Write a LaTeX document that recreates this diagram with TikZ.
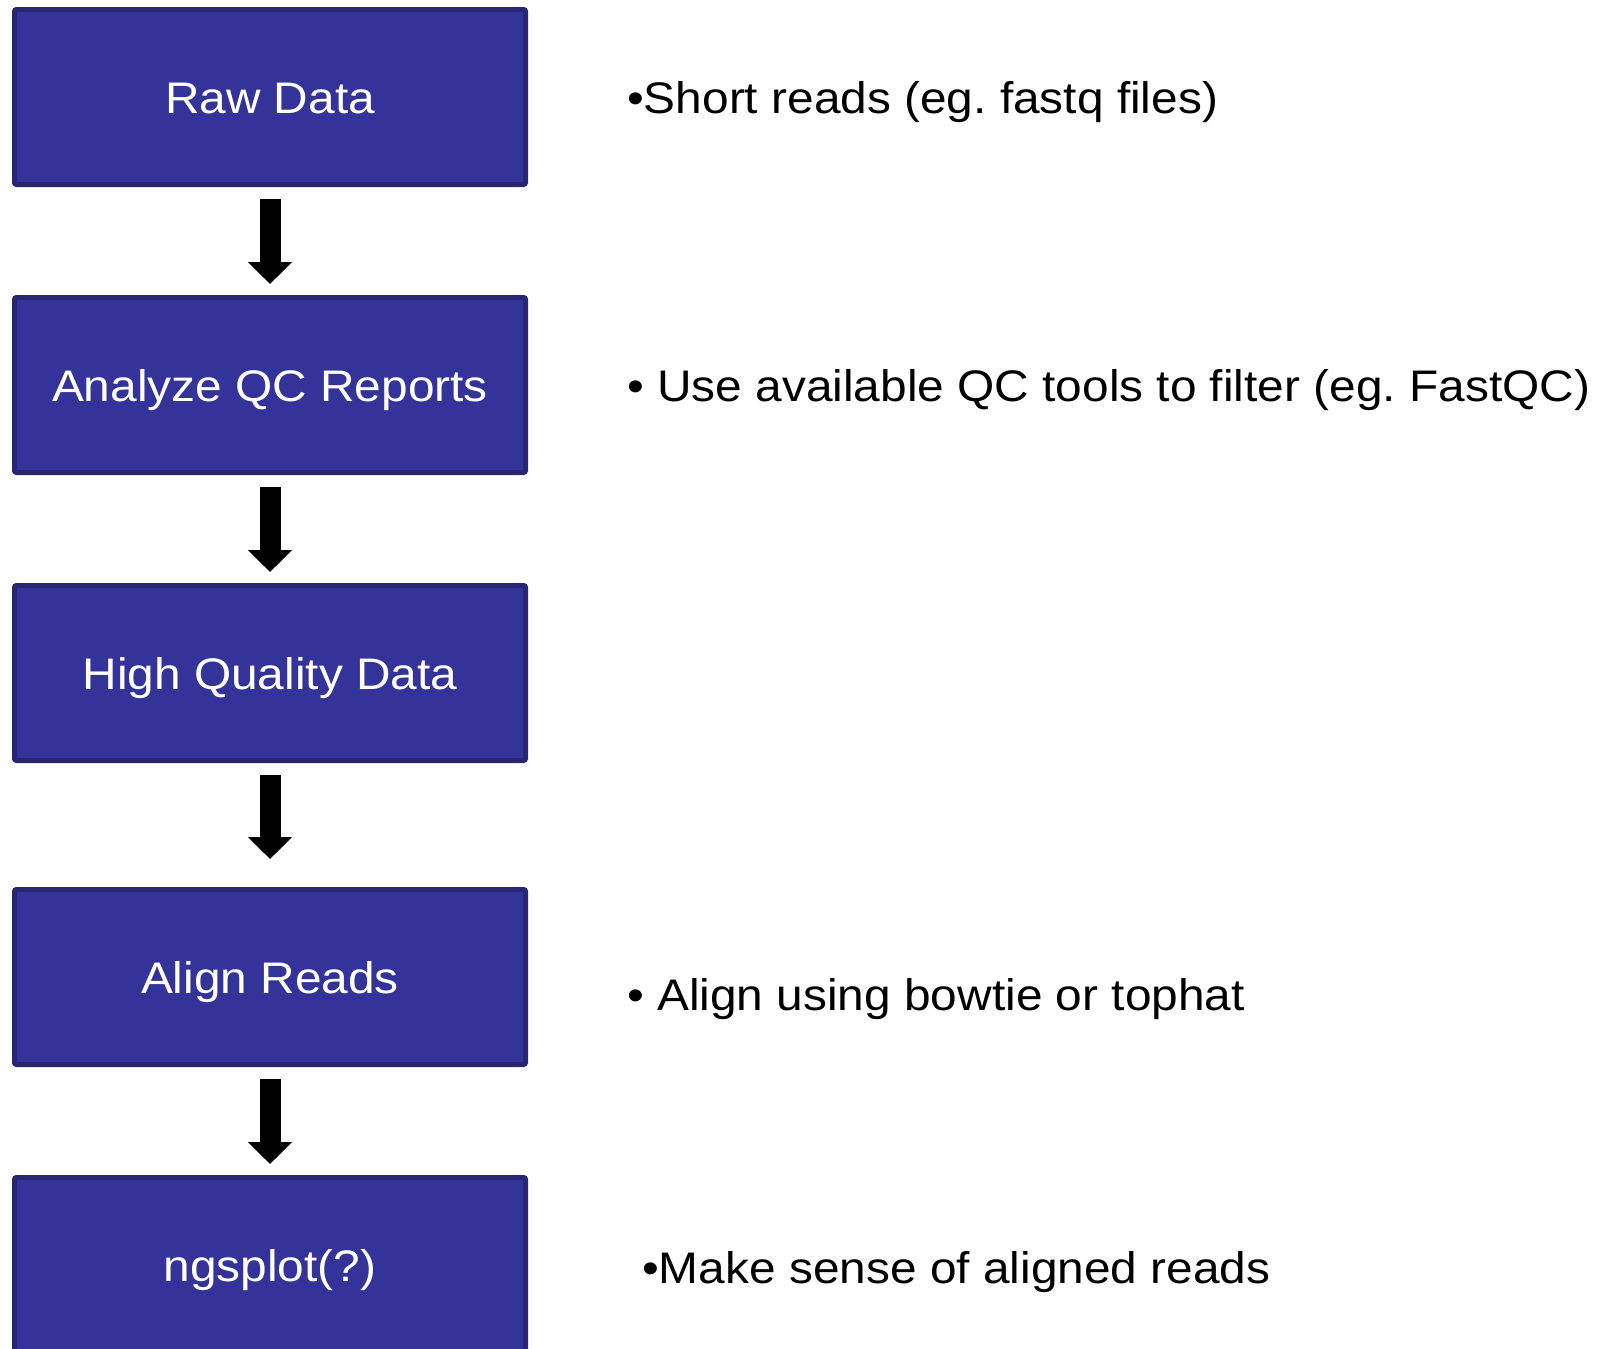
\documentclass[tikz,border=0pt]{standalone}
\usepackage{fontspec}
\setmainfont{Liberation Sans}[FakeStretch=1.082]
\usetikzlibrary{arrows.meta,positioning}
\definecolor{stepblue}{HTML}{333399}
\definecolor{stepedge}{RGB}{38,38,115}
\frenchspacing

\begin{document}
\begin{tikzpicture}[
  x=1pt, y=1pt,
  node distance=108pt,
  box/.style={draw=stepedge, fill=stepblue, line width=5pt, rounded corners=2pt,
              minimum width=511pt, minimum height=175pt, inner sep=0pt,
              text height=32.6pt, text depth=0pt,
              text=white, font=\fontsize{44.2}{53}\selectfont},
  note/.style={inner sep=0pt, text height=32.6pt, text depth=0pt,
               font=\fontsize{44.2}{53}\selectfont},
  arr/.style={line width=21pt, -{Triangle[width=43pt, length=22pt]},
              shorten <=12pt, shorten >=11pt}
]
\useasboundingbox (0,0) rectangle (1606,-1349);
\clip (0,0) rectangle (1606,-1349);
\node[box] (raw) at (270,-97) {Raw Data};
\node[box, below=of raw] (qc) {Analyze QC Reports};
\node[box, below=of qc] (hq) {High Quality Data};
\node[box, below=124pt of hq] (align) {Align Reads};
\node[box, below=of align] (plot) {ngsplot(?)};

\node[note, right=99pt of raw] (rawnote) {•Short reads (eg. fastq files)};
\node[note, right=99pt of qc] (qcnote) {• Use available QC tools to filter (eg. FastQC)};
\node[note, right=99pt of align, yshift=-16.7pt] (alignnote) {• Align using bowtie or tophat};
\node[note, right=114pt of plot, yshift=-2pt] (plotnote) {•Make sense of aligned reads};

\draw[arr] (raw) -- (qc);
\draw[arr] (qc) -- (hq);
\draw[arr, shorten >=28pt] (hq) -- (align);
\draw[arr] (align) -- (plot);
\end{tikzpicture}
\end{document}
